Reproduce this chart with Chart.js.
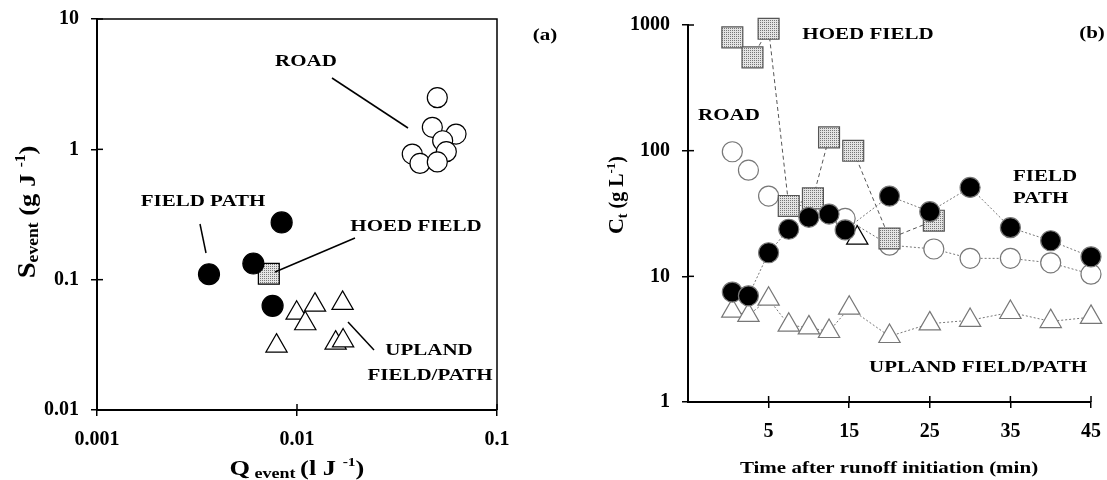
<!DOCTYPE html>
<html>
<head>
<meta charset="utf-8">
<script src="https://cdn.jsdelivr.net/npm/chart.js@4/dist/chart.umd.min.js"></script>
<style>
  body { margin: 0; background: #fff; }
  canvas { position: absolute; top: 0; }
</style>
</head>
<body>
<canvas id="chartA" width="580" height="480" style="left:0"></canvas>
<canvas id="chartB" width="527" height="480" style="left:580px"></canvas>
<script>
// ---- panel (a): event sediment yield vs runoff ----
const aXTicks = [0.001, 0.01, 0.1];
const aYTicks = [0.01, 0.1, 1, 10];
const pathQ = [0.00363, 0.00605, 0.00755, 0.00838];
const pathS = [0.110, 0.133, 0.063, 0.275];
const hoedQ = [0.00723];
const hoedS = [0.111];
const roadQ = [0.0503, 0.0475, 0.0624, 0.0535, 0.0558, 0.0377, 0.0412, 0.0503];
const roadS = [2.49, 1.475, 1.31, 1.164, 0.96, 0.92, 0.78, 0.80];
const uplandQ = [0.0079, 0.00996, 0.0123, 0.0110, 0.0169, 0.0156, 0.0170];
const uplandS = [0.031, 0.0555, 0.064, 0.046, 0.066, 0.0327, 0.034];

// ---- panel (b): concentration over time ----
const bXTicks = [5, 15, 25, 35, 45];
const bYTicks = [1, 10, 100, 1000];
const pathT = [0.5, 2.5, 5, 7.5, 10, 12.5, 14.5, 20, 25, 30, 35, 40, 45];
const pathC = [7.5, 7.0, 15.4, 23.7, 29.5, 31.3, 23.4, 43.5, 32.7, 51, 24.4, 19.2, 14.3];
const hoedT = [0.5, 3, 5, 7.5, 10.5, 12.5, 15.5, 20, 25.5];
const hoedC = [797, 552, 933, 36.3, 41.7, 127.6, 99.8, 20, 27.7];
const roadT = [0.5, 2.5, 5, 14.5, 20, 25.5, 30, 35, 40, 45];
const roadC = [98, 70, 43.5, 28.9, 17.7, 16.5, 13.9, 13.9, 12.8, 10.4];
const uplandT = [0.5, 2.5, 5, 7.5, 10, 12.5, 15, 20, 25, 30, 35, 40, 45];
const uplandC = [5.3, 4.9, 6.6, 4.1, 3.9, 3.65, 5.6, 3.33, 4.2, 4.47, 5.17, 4.38, 4.73];
const uplandExtraT = [16];
const uplandExtraC = [20.2];

const SERIF = '"Liberation Serif", "Times New Roman", serif';
const toPts = (xs, ys) => xs.map((x, i) => ({ x: x, y: ys[i] }));

// dotted grey fill for the hoed field squares
function dotPattern(ctx) {
  const pc = document.createElement('canvas');
  pc.width = 2; pc.height = 2;
  const g = pc.getContext('2d');
  g.fillStyle = '#e4e4e4'; g.fillRect(0, 0, 2, 2);
  g.fillStyle = '#777'; g.fillRect(0, 0, 1, 1);
  return ctx.createPattern(pc, 'repeat');
}

function txt(ctx, s, x, y, size, align) {
  ctx.save();
  ctx.font = 'bold ' + size + 'px ' + SERIF;
  ctx.fillStyle = '#000';
  ctx.textAlign = align || 'center';
  ctx.textBaseline = 'middle';
  ctx.translate(x, y);
  ctx.scale(1.2, 1);
  ctx.fillText(s, 0, 0);
  ctx.restore();
}

// text with sub/superscripts, (x, y) = baseline centre
function rich(ctx, parts, x, y, rotate, stretch) {
  ctx.save();
  ctx.translate(x, y);
  if (rotate) ctx.rotate(-Math.PI / 2);
  ctx.scale(stretch, 1);
  ctx.fillStyle = '#000';
  ctx.textAlign = 'left';
  ctx.textBaseline = 'alphabetic';
  const w = parts.map(p => { ctx.font = 'bold ' + p.size + 'px ' + SERIF; return ctx.measureText(p.t).width; });
  let cx = -w.reduce((a, b) => a + b, 0) / 2;
  parts.forEach((p, i) => {
    ctx.font = 'bold ' + p.size + 'px ' + SERIF;
    ctx.fillText(p.t, cx, p.dy || 0);
    cx += w[i];
  });
  ctx.restore();
}

function line(ctx, x1, y1, x2, y2) {
  ctx.save();
  ctx.strokeStyle = '#000';
  ctx.lineWidth = 1.5;
  ctx.beginPath(); ctx.moveTo(x1, y1); ctx.lineTo(x2, y2); ctx.stroke();
  ctx.restore();
}

// short tick marks on the inner side of the axes
function innerTicks(chart) {
  const ctx = chart.ctx, a = chart.chartArea;
  ctx.save();
  ctx.strokeStyle = '#000';
  ctx.lineWidth = 1.5;
  const sx = chart.scales.x, sy = chart.scales.y;
  sx.ticks.forEach(t => {
    const p = sx.getPixelForValue(t.value);
    ctx.beginPath(); ctx.moveTo(p, a.bottom); ctx.lineTo(p, a.bottom - 6); ctx.stroke();
  });
  sy.ticks.forEach(t => {
    const p = sy.getPixelForValue(t.value);
    ctx.beginPath(); ctx.moveTo(a.left, p); ctx.lineTo(a.left + 6, p); ctx.stroke();
  });
  ctx.restore();
}

function axis(type, min, max, tickVals, opts) {
  return Object.assign({
    type: type,
    min: min,
    max: max,
    afterBuildTicks: s => { s.ticks = tickVals.map(v => ({ value: v })); },
    ticks: {
      color: '#000',
      font: { family: SERIF, size: 20, weight: 'bold' },
      padding: 12,
      autoSkip: false,
      maxRotation: 0,
      callback: v => String(v)
    },
    grid: { drawOnChartArea: false, drawTicks: true, tickLength: 6, color: '#000', lineWidth: 1.5 },
    border: { display: true, color: '#000', width: 2 }
  }, opts);
}

function scatterSet(pts, style, radius, fill, order, extra) {
  return Object.assign({
    data: pts,
    pointStyle: style,
    pointRadius: radius,
    pointHoverRadius: radius,
    backgroundColor: fill,
    borderColor: '#000',
    pointBorderWidth: 1.2,
    showLine: false,
    clip: false
  }, extra || {});
}

// ---------------- chart (a) ----------------
const ctxA = document.getElementById('chartA').getContext('2d');
const patA = dotPattern(ctxA);

new Chart(ctxA, {
  type: 'scatter',
  data: {
    datasets: [
      scatterSet(toPts(pathQ, pathS), 'circle', 10.5, '#000'),
      scatterSet(toPts(hoedQ, hoedS), 'rect', 14.8, patA),
      scatterSet(toPts(uplandQ, uplandS), 'triangle', 12.3, '#fff'),
      scatterSet(toPts(roadQ, roadS), 'circle', 10, '#fff')
    ]
  },
  options: {
    responsive: false,
    animation: false,
    devicePixelRatio: 1,
    events: [],
    layout: { padding: { top: 19, right: 83, left: 0, bottom: 0 } },
    plugins: { legend: { display: false }, tooltip: { enabled: false } },
    scales: {
      x: axis('logarithmic', 0.001, 0.1, aXTicks, {
        afterFit: s => { s.height = 70; s.paddingLeft = 0; s.paddingRight = 0; }
      }),
      y: axis('logarithmic', 0.01, 10, aYTicks, {
        afterFit: s => { s.width = 97; s.paddingTop = 0; s.paddingBottom = 0; }
      })
    }
  },
  plugins: [{
    id: 'decorA',
    afterDraw(chart) {
      const ctx = chart.ctx, a = chart.chartArea;
      innerTicks(chart);
      // frame top + right
      ctx.save();
      ctx.strokeStyle = '#000'; ctx.lineWidth = 1.5;
      ctx.beginPath(); ctx.moveTo(a.left, a.top); ctx.lineTo(a.right, a.top); ctx.lineTo(a.right, a.bottom); ctx.stroke();
      ctx.restore();

      txt(ctx, 'ROAD', 306, 61, 17.5);
      line(ctx, 332, 78, 408, 128);
      txt(ctx, 'FIELD PATH', 203, 201, 17.5);
      line(ctx, 200, 224, 206, 253);
      txt(ctx, 'HOED FIELD', 416, 226, 17.5);
      line(ctx, 355, 238, 275, 272);
      txt(ctx, 'UPLAND', 429, 350, 17.5);
      txt(ctx, 'FIELD/PATH', 430, 375, 17.5);
      line(ctx, 348, 322, 374, 350);
      txt(ctx, '(a)', 545, 35, 17.5);

      rich(ctx, [
        { t: 'Q', size: 22 },
        { t: ' event ', size: 15, dy: 3 },
        { t: '(l J ', size: 22 },
        { t: '-1', size: 13, dy: -9 },
        { t: ')', size: 22 }
      ], 297, 475, false, 1.2);
      rich(ctx, [
        { t: 'S', size: 26 },
        { t: 'event', size: 16, dy: 3 },
        { t: ' (g J ', size: 24 },
        { t: '-1', size: 14, dy: -10 },
        { t: ')', size: 24 }
      ], 35, 212, true, 1.1);
    }
  }]
});

// ---------------- chart (b) ----------------
const OFF = 580;
const ctxB = document.getElementById('chartB').getContext('2d');
const patB = dotPattern(ctxB);
const linkLine = { showLine: true, borderColor: '#777', borderWidth: 1, borderDash: [2, 2] };

new Chart(ctxB, {
  type: 'scatter',
  data: {
    datasets: [
      scatterSet(toPts(pathT, pathC), 'circle', 10, '#000', 0, linkLine),
      scatterSet(toPts(hoedT, hoedC), 'rect', 14.8, patB, 0,
        Object.assign({}, linkLine, { borderDash: [4, 3], borderColor: '#555' })),
      scatterSet(toPts(uplandExtraT, uplandExtraC), 'triangle', 12.3, '#fff'),
      scatterSet(toPts(uplandT, uplandC), 'triangle', 12.3, '#fff', 0, linkLine),
      scatterSet(toPts(roadT, roadC), 'circle', 10, '#fff', 0,
        Object.assign({}, linkLine, {
          segment: { borderColor: c => c.p0DataIndex < 2 ? 'rgba(0,0,0,0)' : '#777' }
        }))
    ]
  },
  options: {
    responsive: false,
    animation: false,
    devicePixelRatio: 1,
    events: [],
    layout: { padding: { top: 25, right: 16, left: 0, bottom: 0 } },
    plugins: { legend: { display: false }, tooltip: { enabled: false } },
    scales: {
      x: axis('linear', -5, 45, bXTicks, {
        afterFit: s => { s.height = 78; s.paddingLeft = 0; s.paddingRight = 0; }
      }),
      y: axis('logarithmic', 1, 1000, bYTicks, {
        afterFit: s => { s.width = 108; s.paddingTop = 0; s.paddingBottom = 0; }
      })
    }
  },
  plugins: [{
    id: 'decorB',
    afterDraw(chart) {
      const ctx = chart.ctx;
      innerTicks(chart);
      txt(ctx, 'HOED FIELD', 868 - OFF, 34, 17.5);
      txt(ctx, '(b)', 1092 - OFF, 33, 17.5);
      txt(ctx, 'ROAD', 729 - OFF, 115, 17.5);
      txt(ctx, 'FIELD', 1013 - OFF, 176, 17.5, 'left');
      txt(ctx, 'PATH', 1013 - OFF, 198, 17.5, 'left');
      txt(ctx, 'UPLAND FIELD/PATH', 978 - OFF, 367, 17.5);

      rich(ctx, [{ t: 'Time after runoff initiation (min)', size: 17.5 }], 889 - OFF, 473, false, 1.2);
      rich(ctx, [
        { t: 'C', size: 22 },
        { t: 't', size: 14, dy: 4 },
        { t: ' (g L', size: 20 },
        { t: '-1', size: 13, dy: -8 },
        { t: ')', size: 20 }
      ], 623 - OFF, 195, true, 1.0);
    }
  }]
});
</script>
</body>
</html>
